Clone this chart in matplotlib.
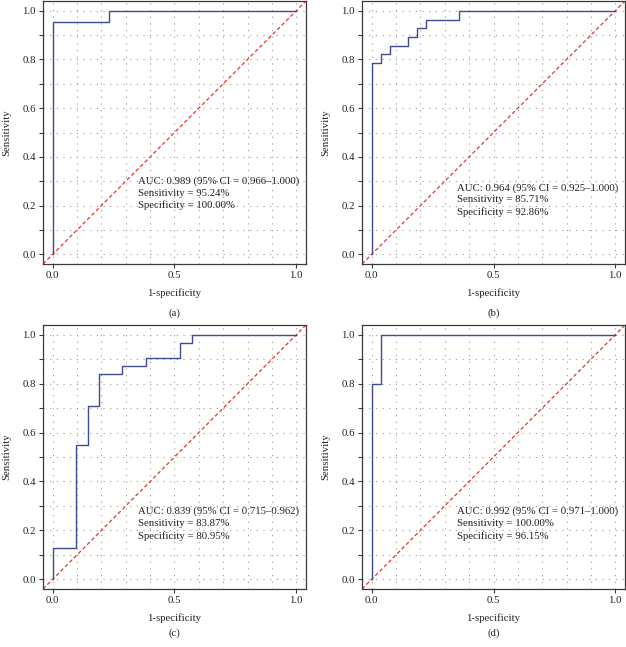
import matplotlib.pyplot as plt
import numpy as np

plt.rcParams['font.family'] = ['Liberation Serif', 'DejaVu Serif']

# ROC step curves, (1-specificity, sensitivity) corner points
fpr_a = [0.0, 0.0, 0.229, 0.229, 1.0]
tpr_a = [0.0, 0.952, 0.952, 1.0, 1.0]

fpr_b = [0.0, 0.0, 0.037, 0.037, 0.074, 0.074, 0.148, 0.148, 0.185, 0.185, 0.222, 0.222, 0.36, 0.36, 1.0]
tpr_b = [0.0, 0.786, 0.786, 0.821, 0.821, 0.857, 0.857, 0.893, 0.893, 0.929, 0.929, 0.964, 0.964, 1.0, 1.0]

fpr_c = [0.0, 0.0, 0.095, 0.095, 0.143, 0.143, 0.190, 0.190, 0.286, 0.286, 0.381, 0.381, 0.524, 0.524, 0.571, 0.571, 1.0]
tpr_c = [0.0, 0.129, 0.129, 0.548, 0.548, 0.710, 0.710, 0.839, 0.839, 0.871, 0.871, 0.903, 0.903, 0.968, 0.968, 1.0, 1.0]

fpr_d = [0.0, 0.0, 0.038, 0.038, 1.0]
tpr_d = [0.0, 0.8, 0.8, 1.0, 1.0]

texts = [
    ["AUC: 0.989 (95% CI = 0.966\u20131.000)", "Sensitivity = 95.24%", "Specificity = 100.00%"],
    ["AUC: 0.964 (95% CI = 0.925\u20131.000)", "Sensitivity = 85.71%", "Specificity = 92.86%"],
    ["AUC: 0.839 (95% CI = 0.715\u20130.962)", "Sensitivity = 83.87%", "Specificity = 80.95%"],
    ["AUC: 0.992 (95% CI = 0.971\u20131.000)", "Sensitivity = 100.00%", "Specificity = 96.15%"],
]
text_top = [0.30, 0.273, 0.277, 0.277]
panel_tags = ["(a)", "(b)", "(c)", "(d)"]

curves = [(fpr_a, tpr_a), (fpr_b, tpr_b), (fpr_c, tpr_c), (fpr_d, tpr_d)]

W, H = 626, 647
fig = plt.figure(figsize=(W / 100, H / 100), dpi=100)

# axes boxes in pixels: left, top, width, height
boxes = [(43, 1, 263, 263), (362, 1, 263, 263), (43, 325, 263, 264), (362, 325, 263, 264)]
xlab_y = [293, 293, 618, 618]
tag_y = [313, 313, 633, 633]
ylab_x = [7, 326, 7, 326]

blue = "#3f4b92"
red = "#e8352c"
frame = "#3a3a3a"
txt = "#222222"
fs = 7.75

for i, (fx, ty) in enumerate(curves):
    l, t, w, h = boxes[i]
    ax = fig.add_axes([l / W, 1 - (t + h) / H, w / W, h / H])
    ax.set_xlim(-0.04, 1.04)
    ax.set_ylim(-0.04, 1.04)
    ax.set_xticks(np.arange(0, 1.01, 0.1), minor=True)
    ax.set_yticks(np.arange(0, 1.01, 0.1), minor=True)
    ax.set_xticks([0, 0.5, 1.0])
    ax.set_yticks(np.arange(0, 1.01, 0.2))
    ax.set_xticklabels(["0.0", "0.5", "1.0"])
    ax.set_yticklabels(["0.0", "0.2", "0.4", "0.6", "0.8", "1.0"])
    ax.grid(True, which="both", color="#9a9a9a", linestyle=(0, (1, 5)), linewidth=0.8)
    ax.tick_params(which="both", direction="out", length=3, width=0.8, color=frame,
                   labelsize=fs, labelcolor=txt, pad=2)
    ax.tick_params(axis="x", which="minor", length=0)
    for s in ax.spines.values():
        s.set_color(frame)
        s.set_linewidth(0.9)
    ax.set_axisbelow(True)

    ax.plot([-0.04, 1.04], [-0.04, 1.04], color=red, linestyle=(0, (3, 2)), linewidth=0.9)
    ax.plot(fx, ty, color=blue, linewidth=1.0)

    for k, s in enumerate(texts[i]):
        ax.text(0.35, text_top[i] - 0.05 * k, s, fontsize=fs, color=txt,
                va="center", ha="left")

    cx = (l + w / 2) / W
    fig.text(cx, 1 - xlab_y[i] / H, "1-specificity",
             fontsize=fs, ha="center", va="center", color=txt)
    fig.text(cx, 1 - tag_y[i] / H, panel_tags[i],
             fontsize=fs, ha="center", va="center", color=txt)
    fig.text(ylab_x[i] / W, 1 - (t + h / 2) / H, "Sensitivity", rotation=90,
             fontsize=fs, ha="center", va="center", color=txt)

fig.savefig("out.png", dpi=100)
